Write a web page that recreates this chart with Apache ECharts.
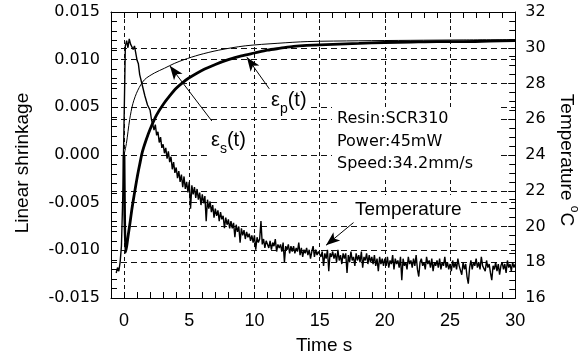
<!DOCTYPE html>
<html><head><meta charset="utf-8">
<script src="https://cdn.jsdelivr.net/npm/echarts@6/dist/echarts.min.js"></script>
<style>html,body{margin:0;padding:0;background:#fff}#c{width:588px;height:360px}</style>
</head><body><div id="c"></div>
<script>
// ---- data ----
const xTickLabels = [0, 5, 10, 15, 20, 25, 30];
const xMinorTicks = [0,1,2,3,4,5,6,7,8,9,10,11,12,13,14,15,16,17,18,19,20,21,22,23,24,25,26,27,28,29,30];

// Temperature (deg C), sampled every 0.1 s starting at -0.6 s
const tempStart = -0.6;
const tempStep = 0.1;
const tempValues = [
  17.4, 17.7, 17.5, 18.0, 18.9, 21.6,
  25.8, 30.1, 30.4, 30.0, 30.5, 30.2, 30.3, 29.9, 30.1, 29.7,
  29.3, 29.1, 28.5, 28.4, 27.9, 27.8, 27.3, 27.2, 26.8, 26.7,
  26.5, 26.0, 26.1, 25.4, 25.7, 25.1, 25.3, 24.7, 25.0, 24.4,
  24.6, 24.1, 24.4, 23.8, 24.2, 23.6, 23.9, 23.2, 23.6, 23.0,
  23.3, 22.7, 23.1, 22.5, 22.9, 22.2, 22.8, 22.1, 22.5, 21.9,
  22.5, 21.0, 22.3, 21.8, 22.2, 21.6, 22.1, 21.5, 21.9, 21.2,
  21.8, 21.3, 21.7, 20.3, 21.5, 21.0, 21.4, 20.8, 21.2, 20.5,
  21.0, 20.6, 20.9, 20.3, 20.8, 20.4, 20.6, 19.9, 20.5, 20.1,
  20.4, 19.9, 20.3, 19.9, 20.2, 19.4, 20.1, 19.7, 20.0, 19.1,
  19.9, 19.5, 19.8, 19.3, 19.7, 19.4, 19.6, 19.2, 19.5, 19.1,
  19.5, 18.7, 19.4, 19.1, 19.3, 20.3, 19.0, 19.3, 18.8, 19.2,
  19.3, 18.8, 19.2, 18.7, 19.1, 18.9, 19.3, 18.6, 19.0, 18.8,
  19.0, 18.6, 19.1, 18.0, 18.9, 18.7, 19.0, 18.5, 18.9, 18.6,
  18.9, 18.5, 18.8, 18.6, 19.1, 18.4, 18.8, 18.3, 18.7, 18.5,
  18.8, 18.4, 18.7, 18.2, 18.6, 18.9, 18.3, 18.7, 18.4, 18.6,
  18.7, 18.3, 18.6, 17.8, 18.5, 18.2, 18.7, 17.5, 18.5, 18.3,
  18.6, 18.2, 18.5, 18.0, 18.7, 18.1, 18.4, 17.9, 18.5, 18.2,
  18.5, 17.4, 18.4, 18.0, 18.6, 18.1, 18.3, 17.8, 18.5, 18.1,
  18.4, 18.0, 18.6, 17.7, 18.3, 18.1, 18.5, 17.9, 18.4, 18.0,
  18.3, 17.9, 18.4, 17.8, 18.2, 17.5, 18.3, 17.9, 18.2, 17.8,
  18.2, 17.8, 18.3, 17.7, 18.1, 17.9, 18.4, 17.6, 18.2, 17.9,
  18.1, 17.7, 18.3, 17.0, 18.2, 17.8, 18.0, 17.6, 18.3, 17.9,
  18.1, 17.7, 18.2, 17.8, 18.4, 17.6, 17.2, 18.0, 18.2, 17.8,
  18.0, 17.6, 18.3, 17.9, 18.1, 17.7, 18.2, 17.5, 18.0, 17.8,
  18.1, 17.7, 18.2, 17.6, 18.0, 17.8, 18.3, 17.7, 18.0, 17.6,
  17.9, 17.5, 18.1, 17.7, 18.0, 17.6, 18.2, 17.8, 17.9, 17.3,
  18.0, 17.6, 17.9, 17.2, 16.8, 17.7, 18.1, 17.6, 18.0, 17.8,
  18.2, 17.7, 18.0, 17.6, 18.3, 17.8, 17.9, 17.5, 18.1, 17.7,
  17.9, 17.4, 17.0, 17.8, 17.6, 18.0, 17.5, 17.9, 17.3, 17.8,
  18.0, 17.6, 17.9, 17.4, 18.1, 17.7, 17.9, 17.5, 18.0, 17.7,
  17.9
];

// eps_s(t) : thin curve
const epsSTime   = [0, 0.18, 0.43, 0.68, 1.06, 1.57, 2.33, 3.1, 3.85, 4.6, 5.75, 7.27, 9.29, 11.8, 14.1, 18, 22, 26, 30];
const epsSValues = [0, 0.0012, 0.0037, 0.0054, 0.0068, 0.0079, 0.0086, 0.0091, 0.0096, 0.0100, 0.0105, 0.0110, 0.01145, 0.01172, 0.0119, 0.01198, 0.01203, 0.01207, 0.0121];

// eps_p(t) : thick curve
const epsPTime   = [0, 0.1, 0.2, 0.3, 0.45, 0.6, 0.8, 1.0, 1.2, 1.4, 1.7, 2.0, 2.5, 3.0, 3.5, 4.0, 4.5, 5.0, 6.0, 7.0, 8.0, 9.0, 10, 11, 12, 13, 14, 16, 18, 20, 22, 24, 26, 28, 30];
const epsPValues = [0.0, -0.0102, -0.0096, -0.0086, -0.0072, -0.0057, -0.0040, -0.0024, -0.0010, 0.0003, 0.0016, 0.0027, 0.0042, 0.0053, 0.0062, 0.0070, 0.0076, 0.0081, 0.0089, 0.0095, 0.0100, 0.0104, 0.0107, 0.0110, 0.0112, 0.0114, 0.0115, 0.0116, 0.0117, 0.0118, 0.01185, 0.0119, 0.0119, 0.01195, 0.0120];

// annotation arrows: [from, to] in data units
const arrowEpsS = [[6.73, 0.00357], [3.51, 0.00935]];
const arrowEpsP = [[11.14, 0.00694], [9.42, 0.01025]];
const arrowTemp = [[17.6, 20.22], [15.49, 18.95]];

const infoLines = ['Resin:SCR310', 'Power:45mW', 'Speed:34.2mm/s'];

// ---- build ----
const tempData = tempValues.map((v, i) => [+(tempStart + i * tempStep).toFixed(2), v]);
const epsSData = epsSTime.map((t, i) => [t, epsSValues[i]]);
const epsPData = epsPTime.map((t, i) => [t, epsPValues[i]]);

const SANS = 'Liberation Sans';
const WIDE = 'DejaVu Sans';
const BLACK = '#000';
const hDash = { color: '#111', width: 1, type: [6, 4] };
const vDash = { color: '#111', width: 1, type: [4, 3] };

function arrowLine(a) {
  return {
    silent: true, animation: false,
    symbol: ['none', 'arrow'],
    label: { show: false },
    emphasis: { disabled: true },
    lineStyle: { color: BLACK, width: 1, type: 'solid' },
    data: [[
      { coord: a[0], symbol: 'none', symbolSize: 0 },
      { coord: a[1], symbol: 'arrow', symbolSize: [8, 14] }
    ]]
  };
}

const chart = echarts.init(document.getElementById('c'));
chart.setOption({
  animation: false,
  backgroundColor: '#fff',
  grid: { left: 111, right: 69, top: 12, bottom: 62, containLabel: false },
  xAxis: [
    {
      // labels + grid lines
      type: 'value', position: 'bottom', min: -1, max: 30, splitNumber: 6,
      axisLine: { show: true, onZero: false, lineStyle: { color: BLACK, width: 1 } },
      axisTick: { show: false },
      axisLabel: { customValues: xTickLabels, margin: 14, color: BLACK, fontFamily: SANS, fontSize: 18,
                   formatter: v => (v < 0 ? '' : String(v)) },
      splitLine: { show: true, lineStyle: vDash },
      name: 'Time s', nameLocation: 'middle', nameGap: 38,
      nameTextStyle: { color: BLACK, fontFamily: SANS, fontSize: 19, padding: [0, 0, 0, 22] }
    },
    {
      // top frame ticks
      type: 'value', position: 'top', min: -1, max: 30,
      axisLine: { show: true, onZero: false, lineStyle: { color: BLACK, width: 1 } },
      axisTick: { show: true, inside: true, length: 6, customValues: xMinorTicks, lineStyle: { color: BLACK } },
      axisLabel: { show: false },
      splitLine: { show: false }
    },
    {
      // bottom ticks
      type: 'value', position: 'bottom', offset: 0, min: -1, max: 30,
      axisLine: { show: false, onZero: false },
      axisTick: { show: true, inside: true, length: 6, customValues: xMinorTicks, lineStyle: { color: BLACK } },
      axisLabel: { show: false },
      splitLine: { show: false }
    }
  ],
  yAxis: [
    {
      type: 'value', position: 'left', min: -0.015, max: 0.015, interval: 0.005,
      axisLine: { show: true, onZero: false, lineStyle: { color: BLACK, width: 1 } },
      axisTick: { show: true, inside: true, length: 7, lineStyle: { color: BLACK } },
      minorTick: { show: true, splitNumber: 5, length: 6, lineStyle: { color: BLACK } },
      axisLabel: { margin: 11, color: BLACK, fontFamily: WIDE, fontSize: 16,
                   formatter: v => (Math.abs(v) < 1e-12 ? 0 : v).toFixed(3) },
      splitLine: { show: true, lineStyle: hDash },
      name: 'Linear shrinkage', nameLocation: 'middle', nameRotate: 90, nameGap: 79,
      nameTextStyle: { color: BLACK, fontFamily: SANS, fontSize: 19, padding: [0, 16, 0, 0] }
    },
    {
      type: 'value', position: 'right', min: 16, max: 32, interval: 2,
      axisLine: { show: true, onZero: false, lineStyle: { color: BLACK, width: 1 } },
      axisTick: { show: true, inside: true, length: 7, lineStyle: { color: BLACK } },
      minorTick: { show: true, splitNumber: 4, length: 6, lineStyle: { color: BLACK } },
      axisLabel: { margin: 10, color: BLACK, fontFamily: WIDE, fontSize: 16 },
      splitLine: { show: true, lineStyle: hDash },
      name: 'Temperature {sup|o}C', nameLocation: 'middle', nameRotate: -90, nameGap: 35,
      nameTextStyle: { color: BLACK, fontFamily: SANS, fontSize: 19, padding: [0, 0, 0, 10],
        rich: { sup: { color: BLACK, fontFamily: SANS, fontSize: 12, padding: [0, 0, 16, 0] } } }
    }
  ],
  series: [
    {
      type: 'line', name: 'Temperature', xAxisIndex: 0, yAxisIndex: 1, data: tempData,
      symbol: 'none', showSymbol: false, silent: true, z: 3,
      lineStyle: { color: BLACK, width: 1.4 },
      emphasis: { disabled: true },
      markLine: arrowLine(arrowTemp)
    },
    {
      type: 'line', name: 'eps_s', xAxisIndex: 0, yAxisIndex: 0, data: epsSData,
      symbol: 'none', showSymbol: false, silent: true, smooth: 0.3, z: 3,
      lineStyle: { color: BLACK, width: 1 },
      emphasis: { disabled: true },
      markLine: arrowLine(arrowEpsS)
    },
    {
      type: 'line', name: 'eps_p', xAxisIndex: 0, yAxisIndex: 0, data: epsPData,
      symbol: 'none', showSymbol: false, silent: true, smooth: 0.25, z: 3,
      lineStyle: { color: BLACK, width: 2.8 },
      emphasis: { disabled: true },
      markLine: arrowLine(arrowEpsP)
    }
  ],
  graphic: [
    { type: 'text', left: 332, top: 107, z: 1, silent: true,
      style: { text: infoLines.join('\n'), fontFamily: WIDE, fontSize: 16, lineHeight: 22.5, fill: BLACK,
               backgroundColor: '#fff', padding: [1, 24, 4, 5] } },
    { type: 'text', left: 340, top: 195, z: 1, silent: true,
      style: { text: 'Temperature', fontFamily: SANS, fontSize: 19, fill: BLACK,
               backgroundColor: '#fff', padding: [5, 9, 4, 15] } },
    { type: 'text', left: 208, top: 124, z: 1, silent: true,
      style: { text: 'ε{s|s}(t)', fontFamily: SANS, fontSize: 20, fill: BLACK,
               backgroundColor: '#fff', padding: [0, 4, 1, 3],
               rich: { s: { fontFamily: SANS, fontSize: 14, fill: BLACK, padding: [18, 0, 0, 0] } } } },
    { type: 'text', left: 268, top: 84, z: 1, silent: true,
      style: { text: 'ε{p|p}(t)', fontFamily: SANS, fontSize: 20, fill: BLACK,
               backgroundColor: '#fff', padding: [0, 3, 1, 3],
               rich: { p: { fontFamily: SANS, fontSize: 14, fill: BLACK, padding: [18, 0, 0, 0] } } } }
  ]
});
</script>
</body></html>
